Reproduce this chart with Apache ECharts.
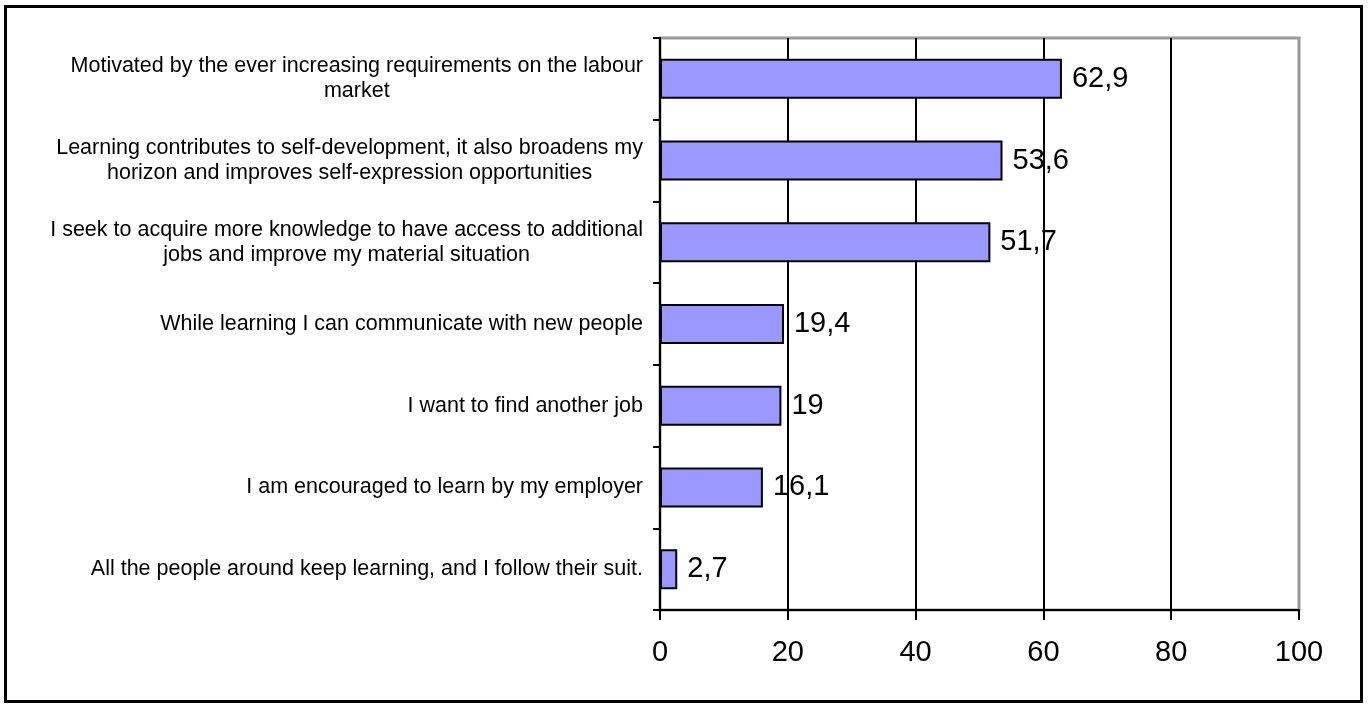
<!DOCTYPE html>
<html>
<head>
<meta charset="utf-8">
<style>
  html, body { margin: 0; padding: 0; background: #fff; }
  #frame { position: absolute; left: 4px; top: 5px; width: 1353px; height: 692px; border: 3px solid #000; }
  #chart { position: absolute; left: 0; top: 0; width: 1369px; height: 709px; }
</style>
<script src="https://cdn.jsdelivr.net/npm/echarts@6/dist/echarts.min.js"></script>
</head>
<body>
<div id="frame"></div>
<div id="chart"></div>
<script>
// Reasons for learning (share of respondents, %)
const categories = [
  'Motivated by the ever increasing requirements on the labour\nmarket',
  'Learning contributes to self-development, it also broadens my\nhorizon and improves self-expression opportunities',
  'I seek to acquire more knowledge to have access to additional\njobs and improve my material situation',
  'While learning I can communicate with new people',
  'I want to find another job',
  'I am encouraged to learn by my employer',
  'All the people around keep learning, and I follow their suit.'
];
const values = [62.9, 53.6, 51.7, 19.4, 19, 16.1, 2.7];
const xTicks = [0, 20, 40, 60, 80, 100];

const FONT = '"Liberation Sans", Arial, sans-serif';

const chart = echarts.init(document.getElementById('chart'), null, { renderer: 'canvas' });

chart.setOption({
  animation: false,
  backgroundColor: 'transparent',
  grid: {
    left: 660, right: 70, top: 38, bottom: 99,
    show: true, borderColor: '#999999', borderWidth: 3, backgroundColor: 'transparent'
  },
  xAxis: {
    type: 'value',
    min: xTicks[0],
    max: xTicks[xTicks.length - 1],
    interval: xTicks[1] - xTicks[0],
    axisLine: { show: true, lineStyle: { color: '#000', width: 2 } },
    axisTick: { show: true, length: 10, lineStyle: { color: '#000', width: 2 } },
    axisLabel: {
      margin: 28, color: '#000', fontSize: 29, fontFamily: FONT,
      formatter: v => String(v)
    },
    splitLine: {
      show: true,
      lineStyle: { color: ['#000', '#000', '#000', '#000', '#000', '#999999'], width: 2 }
    }
  },
  yAxis: {
    type: 'category',
    inverse: true,
    data: categories,
    axisLine: { show: true, lineStyle: { color: '#000', width: 2 } },
    axisTick: { show: true, length: 7, alignWithLabel: false, lineStyle: { color: '#000', width: 2 } },
    axisLabel: {
      margin: 17, color: '#000', fontSize: 21.5, fontFamily: FONT, lineHeight: 25,
      align: 'right',
      formatter: s => s.split('\n').map(l => '{c|' + l + '}').join('\n'),
      rich: {
        c: { align: 'center', fontSize: 21.5, fontFamily: FONT, color: '#000', lineHeight: 25 }
      }
    },
    splitLine: { show: false }
  },
  series: [{
    type: 'bar',
    data: values,
    barWidth: 40,
    itemStyle: { color: '#9999FF', borderColor: '#000', borderWidth: 2 },
    label: {
      show: true, position: 'right', distance: 10,
      color: '#000', fontSize: 29, fontFamily: FONT,
      formatter: p => String(p.value).replace('.', ',')
    }
  }]
});
</script>
</body>
</html>
